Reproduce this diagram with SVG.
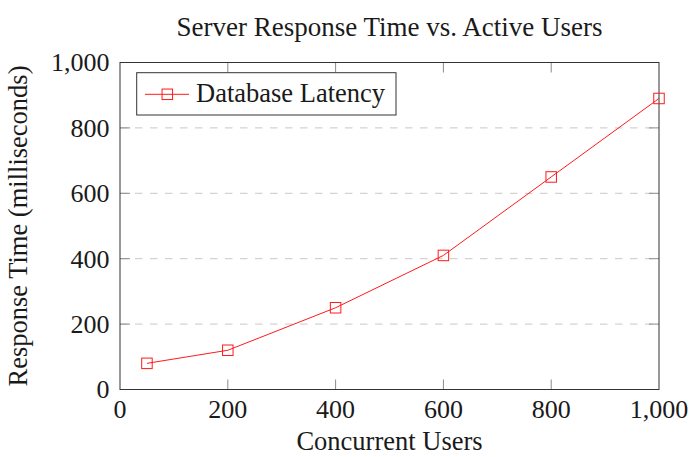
<svg xmlns="http://www.w3.org/2000/svg" width="690" height="457" viewBox="0 0 690 457">
<style>
text { font-family: "Liberation Serif", "Times New Roman", serif; fill: #1a1a1a; }
.t { font-size: 26.5px; }
.ti { font-size: 27px; }
.tk { font-size: 26px; }
.grid { stroke: #c8c8c8; stroke-width: 1; stroke-dasharray: 7.5 7.5; fill: none; }
.tick { stroke: #8a8a8a; stroke-width: 1; fill: none; }
.axis { stroke: #333; stroke-width: 1; fill: none; }
.series { stroke: #ff1a1a; stroke-width: 1; fill: none; }
.mk { stroke: #ff1a1a; stroke-width: 1; fill: none; }
</style>
<defs>
<rect id="sq" x="-5.25" y="-5.25" width="10.5" height="10.5" class="mk"/>
</defs>
<rect width="690" height="457" fill="#fff"/>
<text id="title" class="ti" x="389.5" y="35.5" text-anchor="middle">Server Response Time vs. Active Users</text>
<g id="grid">
<line class="grid" x1="120" y1="324.1" x2="659" y2="324.1"/>
<line class="grid" x1="120" y1="258.7" x2="659" y2="258.7"/>
<line class="grid" x1="120" y1="193.3" x2="659" y2="193.3"/>
<line class="grid" x1="120" y1="127.9" x2="659" y2="127.9"/>
</g>
<g id="ticks">
<path class="tick" d="M227.8 389.5V379.5M335.6 389.5V379.5M443.4 389.5V379.5M551.2 389.5V379.5M227.8 62.5V72.5M335.6 62.5V72.5M443.4 62.5V72.5M551.2 62.5V72.5"/>
<path class="tick" d="M120 324.1H130M120 258.7H130M120 193.3H130M120 127.9H130M659 324.1H649M659 258.7H649M659 193.3H649M659 127.9H649"/>
</g>
<g id="axes">
<rect class="axis" x="120" y="62.5" width="539" height="327"/>
</g>
<g id="xticklabels">
<text class="tk" x="120" y="418" text-anchor="middle">0</text>
<text class="tk" x="227.8" y="418" text-anchor="middle">200</text>
<text class="tk" x="335.6" y="418" text-anchor="middle">400</text>
<text class="tk" x="443.4" y="418" text-anchor="middle">600</text>
<text class="tk" x="551.2" y="418" text-anchor="middle">800</text>
<text class="tk" x="659" y="418" text-anchor="middle">1,000</text>
</g>
<g id="yticklabels">
<text class="tk" x="109.5" y="398.3" text-anchor="end">0</text>
<text class="tk" x="109.5" y="332.9" text-anchor="end">200</text>
<text class="tk" x="109.5" y="267.5" text-anchor="end">400</text>
<text class="tk" x="109.5" y="202.1" text-anchor="end">600</text>
<text class="tk" x="109.5" y="136.7" text-anchor="end">800</text>
<text class="tk" x="109.5" y="71.3" text-anchor="end">1,000</text>
</g>
<text id="xlabel" class="t" x="389.5" y="450" text-anchor="middle">Concurrent Users</text>
<text id="ylabel" class="t" transform="translate(27 226) rotate(-90)" text-anchor="middle">Response Time (milliseconds)</text>
<g id="series">
<polyline class="series" points="146.95,363.34 227.8,350.26 335.6,307.75 443.4,255.43 551.2,176.95 659,98.47"/>
<use href="#sq" x="146.95" y="363.34"/>
<use href="#sq" x="227.8" y="350.26"/>
<use href="#sq" x="335.6" y="307.75"/>
<use href="#sq" x="443.4" y="255.43"/>
<use href="#sq" x="551.2" y="176.95"/>
<use href="#sq" x="659" y="98.47"/>
</g>
<g id="legend">
<rect x="136.7" y="72.7" width="259.3" height="42.3" fill="#fff" stroke="#333" stroke-width="1"/>
<line class="series" x1="145" y1="94.3" x2="189" y2="94.3"/>
<use href="#sq" x="167.3" y="94.3"/>
<text class="t" x="196" y="101.5">Database Latency</text>
</g>
</svg>
